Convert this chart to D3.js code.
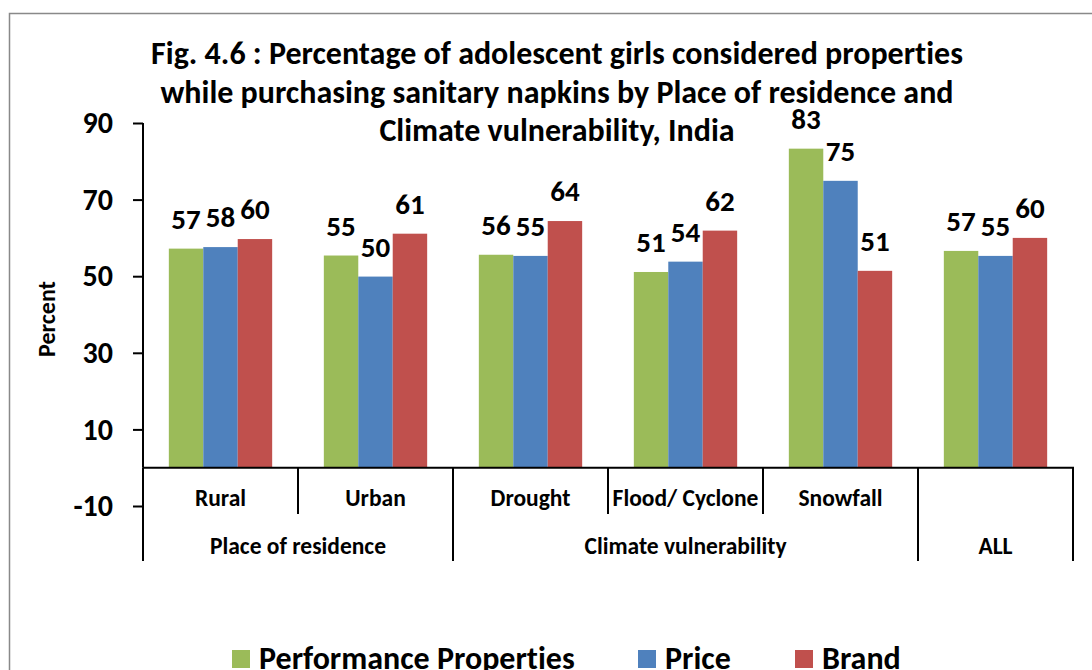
<html>
<head>
<meta charset="utf-8">
<style>
  body { margin: 0; background: #fff; }
  text { font-family: Carlito, Calibri, Lato, "Open Sans", sans-serif; font-weight: bold; fill: #000; font-variant-ligatures: none; }
</style>
<script src="https://d3js.org/d3.v7.min.js"></script>
</head>
<body>
<svg id="chart" width="1092" height="670"></svg>
<script>
// data
const categories = ['Rural', 'Urban', 'Drought', 'Flood/ Cyclone', 'Snowfall', 'ALL'];
const groups = [
  { name: 'Place of residence', from: 0, to: 1 },
  { name: 'Climate vulnerability', from: 2, to: 4 },
  { name: 'ALL', from: 5, to: 5 }
];
const seriesNames = ['Performance Properties', 'Price', 'Brand'];
const performance = [57.2, 55.4, 55.6, 51.1, 83.3, 56.6];
const price = [57.6, 49.9, 55.3, 53.8, 74.9, 55.3];
const brand = [59.7, 61.1, 64.4, 61.9, 51.4, 60.0];
const yTicks = [-10, 10, 30, 50, 70, 90];
const colors = ['#9BBB59', '#4F81BD', '#C0504D'];
const titleLines = [
  'Fig. 4.6 : Percentage of adolescent girls considered properties',
  'while purchasing sanitary napkins by Place of residence and',
  'Climate vulnerability, India'
];

const svg = d3.select('#chart');
const values = [performance, price, brand];

// outer frame (runs off the right and bottom edge)
svg.append('rect')
  .attr('x', 9.5).attr('y', 13.5)
  .attr('width', 1200).attr('height', 800)
  .attr('fill', 'none').attr('stroke', '#898989').attr('stroke-width', 1.5);

const y = d3.scaleLinear().domain([-10, 90]).range([506, 123]);
const x0 = d3.scaleBand().domain(categories).range([143, 1073]);
const x1 = d3.scaleBand().domain(seriesNames).range([0, x0.bandwidth()])
  .paddingInner(0).paddingOuter(0.75);

// title
svg.append('g').selectAll('text')
  .data(titleLines)
  .join('text')
  .attr('x', 557)
  .attr('y', (d, i) => 64 + i * 38.5)
  .attr('text-anchor', 'middle')
  .style('font-size', '32px')
  .text(d => d);

// bars
seriesNames.forEach((s, i) => {
  svg.append('g').selectAll('rect')
    .data(categories)
    .join('rect')
    .attr('x', d => x0(d) + x1(s))
    .attr('width', x1.bandwidth())
    .attr('y', (d, j) => y(values[i][j]))
    .attr('height', (d, j) => y(0) - y(values[i][j]))
    .attr('fill', colors[i]);

  svg.append('g').selectAll('text')
    .data(categories)
    .join('text')
    .attr('x', d => x0(d) + x1(s) + x1.bandwidth() / 2)
    .attr('y', (d, j) => y(values[i][j]) - 20)
    .attr('text-anchor', 'middle')
    .style('font-size', '29px')
    .text((d, j) => Math.round(values[i][j]));
});

// y axis
const yAxis = svg.append('g')
  .attr('transform', 'translate(143,0)')
  .call(d3.axisLeft(y).tickValues(yTicks).tickSize(10).tickPadding(20).tickFormat(d => String(d)));
yAxis.select('.domain').remove();
yAxis.selectAll('.tick line').attr('stroke', '#000').attr('stroke-width', 2);
yAxis.selectAll('.tick text').style('font-size', '30px').attr('font-family', null);
svg.append('line')
  .attr('x1', 143).attr('x2', 143).attr('y1', y(90)).attr('y2', y(0))
  .attr('stroke', '#000').attr('stroke-width', 2);

// x axis line
svg.append('line')
  .attr('x1', 143).attr('x2', 1074).attr('y1', y(0)).attr('y2', y(0))
  .attr('stroke', '#000').attr('stroke-width', 2);

// category row dividers
const rowTop = y(0), row1 = 514, row2 = 561;
const edges = categories.map(c => x0(c)).concat([x0.range()[1]]);
const groupEdges = new Set([x0(categories[0])].concat(groups.map(g => x0(categories[g.to]) + x0.bandwidth())));
svg.append('g').selectAll('line')
  .data(edges)
  .join('line')
  .attr('x1', d => d).attr('x2', d => d)
  .attr('y1', rowTop)
  .attr('y2', d => groupEdges.has(d) ? row2 : row1)
  .attr('stroke', '#000').attr('stroke-width', 2);

svg.append('g').selectAll('text')
  .data(categories)
  .join('text')
  .attr('x', d => x0(d) + x0.bandwidth() / 2)
  .attr('y', 506)
  .attr('text-anchor', 'middle')
  .style('font-size', '23.5px')
  .text(d => d === 'ALL' ? '' : d);

svg.append('g').selectAll('text')
  .data(groups)
  .join('text')
  .attr('x', g => (x0(categories[g.from]) + x0(categories[g.to]) + x0.bandwidth()) / 2)
  .attr('y', 554)
  .attr('text-anchor', 'middle')
  .style('font-size', '23.5px')
  .text(g => g.name);

// y title
svg.append('text')
  .attr('transform', 'translate(55,319) rotate(-90)')
  .attr('text-anchor', 'middle')
  .style('font-size', '24px')
  .text('Percent');

// legend
const legendX = [232, 638, 795];
const legend = svg.append('g').selectAll('g')
  .data(seriesNames)
  .join('g')
  .attr('transform', (d, i) => `translate(${legendX[i]},650)`);
legend.append('rect')
  .attr('width', 18).attr('height', 18)
  .attr('fill', (d, i) => colors[i]);
legend.append('text')
  .attr('x', 27).attr('y', 19)
  .style('font-size', '32px')
  .text(d => d);
</script>
</body>
</html>
